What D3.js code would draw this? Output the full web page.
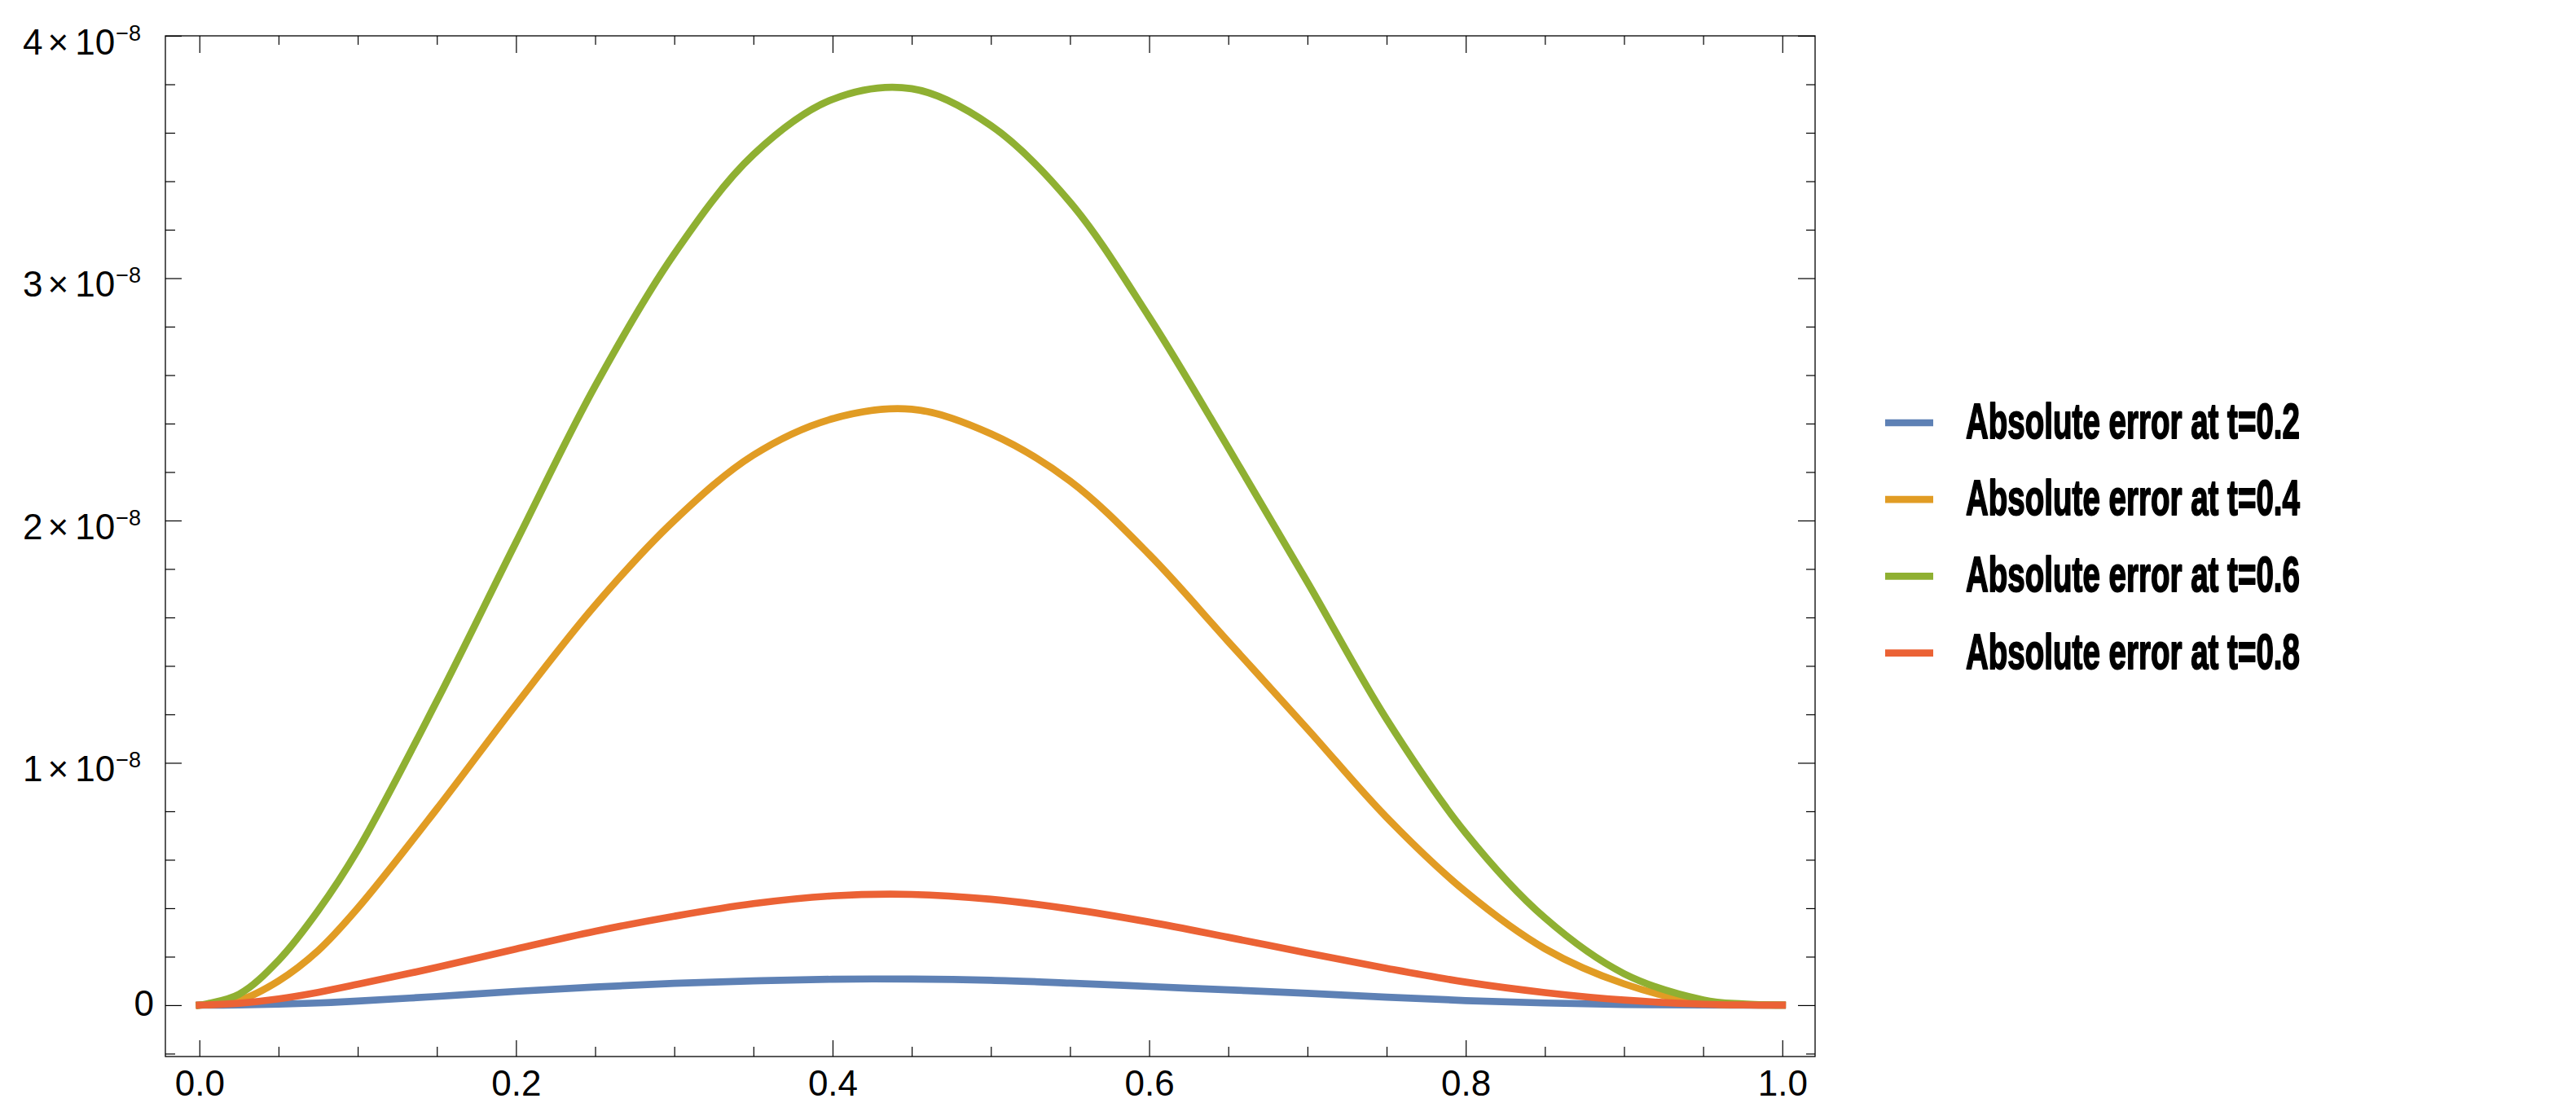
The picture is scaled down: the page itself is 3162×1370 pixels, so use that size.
<!DOCTYPE html>
<html>
<head>
<meta charset="utf-8">
<script src="https://cdn.jsdelivr.net/npm/d3@7"></script>
<style>
  body { margin: 0; background: #fff; }
  svg text { font-family: "Liberation Sans", Arial, sans-serif; }
</style>
</head>
<body>
<div id="chart"></div>
<script>
// x positions and absolute errors (values are in units of 1e-8)
var xs      = [0, 0.025, 0.05, 0.075, 0.1, 0.15, 0.2, 0.25, 0.3, 0.35, 0.4, 0.45, 0.5, 0.55, 0.6, 0.65, 0.7, 0.75, 0.8, 0.85, 0.9, 0.95, 0.975, 1];
var errT02  = [0, 0.001, 0.004, 0.009, 0.017, 0.036, 0.057, 0.075, 0.09, 0.10, 0.107, 0.108, 0.103, 0.091, 0.077, 0.063, 0.049, 0.033, 0.019, 0.009, 0.003, 0.001, 0, 0];
var errT04  = [0, 0.02, 0.10, 0.225, 0.40, 0.81, 1.24, 1.65, 2.0, 2.27, 2.42, 2.459, 2.358, 2.163, 1.86, 1.50, 1.14, 0.775, 0.468, 0.233, 0.088, 0.008, 0.002, 0];
var errT06  = [0, 0.045, 0.185, 0.39, 0.64, 1.255, 1.91, 2.555, 3.10, 3.51, 3.738, 3.782, 3.63, 3.314, 2.84, 2.30, 1.745, 1.18, 0.71, 0.36, 0.13, 0.022, 0.005, 0];
var errT08  = [0, 0.008, 0.026, 0.053, 0.086, 0.156, 0.232, 0.305, 0.367, 0.419, 0.451, 0.457, 0.437, 0.397, 0.343, 0.28, 0.215, 0.152, 0.095, 0.052, 0.021, 0.004, 0.001, 0];

var seriesNames  = ["Absolute error at t=0.2", "Absolute error at t=0.4", "Absolute error at t=0.6", "Absolute error at t=0.8"];
var seriesColors = ["#5E81B5", "#E19C24", "#8FB032", "#EB6235"];

var xTicks = [0, 0.2, 0.4, 0.6, 0.8, 1.0];
var yTicks = [0, 1, 2, 3, 4];
var yExponent = "\u22128";

var width = 3162, height = 1370;
var frame = {left: 203, top: 44, right: 2228, bottom: 1297};

var svg = d3.select("#chart").append("svg")
    .attr("width", width)
    .attr("height", height);

var x = d3.scaleLinear()
    .domain([-0.0215, 1.0207])
    .range([frame.left, frame.right]);

var y = d3.scaleLinear()
    .domain([-0.212, 4])
    .range([frame.bottom, frame.top]);

var xMinor = d3.range(0, 1.0001, 0.05).filter(function(d){ return Math.abs(d * 5 - Math.round(d * 5)) > 1e-6 });
var yMinor = d3.range(-0.2, 4.0001, 0.2).filter(function(d){ return Math.abs(d - Math.round(d)) > 1e-6 });

function tickAxis(axis, values, size){
    return axis.tickValues(values).tickSize(size).tickFormat("");
}

function styleAxis(g){
    g.select(".domain").remove();
    g.selectAll("line").attr("stroke", "#000").attr("stroke-width", 1.2);
}

// minor ticks on all four sides
svg.append("g").attr("transform", "translate(0," + frame.bottom + ")").call(tickAxis(d3.axisBottom(x), xMinor, -12)).call(styleAxis);
svg.append("g").attr("transform", "translate(0," + frame.top + ")").call(tickAxis(d3.axisTop(x), xMinor, -11)).call(styleAxis);
svg.append("g").attr("transform", "translate(" + frame.left + ",0)").call(tickAxis(d3.axisLeft(y), yMinor, -12)).call(styleAxis);
svg.append("g").attr("transform", "translate(" + frame.right + ",0)").call(tickAxis(d3.axisRight(y), yMinor, -11)).call(styleAxis);

// major ticks
var xAxis = svg.append("g")
    .attr("transform", "translate(0," + frame.bottom + ")")
    .call(d3.axisBottom(x).tickValues(xTicks).tickSize(-20).tickPadding(17).tickFormat(d3.format(".1f")))
    .call(styleAxis);
xAxis.selectAll("text")
    .attr("font-family", "Liberation Sans, Arial, sans-serif")
    .attr("font-size", 44)
    .attr("fill", "#000");

svg.append("g").attr("transform", "translate(0," + frame.top + ")").call(tickAxis(d3.axisTop(x), xTicks, -21)).call(styleAxis);
svg.append("g").attr("transform", "translate(" + frame.left + ",0)").call(tickAxis(d3.axisLeft(y), yTicks, -20)).call(styleAxis);
svg.append("g").attr("transform", "translate(" + frame.right + ",0)").call(tickAxis(d3.axisRight(y), yTicks, -21)).call(styleAxis);

// y labels with scientific notation
yTicks.forEach(function(v){
    if (v === 0) {
        svg.append("text")
            .attr("x", frame.left - 14)
            .attr("y", y(v) + 13)
            .attr("text-anchor", "end")
            .attr("font-size", 44)
            .text("0");
        return;
    }
    var t = svg.append("text")
        .attr("x", frame.left - 30)
        .attr("y", y(v) + 23)
        .attr("text-anchor", "end")
        .attr("font-size", 44);
    t.append("tspan").text(v);
    t.append("tspan").attr("dx", 6).text("\u00d7");
    t.append("tspan").attr("dx", 8).text("10");
    t.append("tspan").attr("dx", 1).attr("dy", -17).attr("font-size", 27).text(yExponent);
});

// frame
svg.append("rect")
    .attr("x", frame.left)
    .attr("y", frame.top)
    .attr("width", frame.right - frame.left)
    .attr("height", frame.bottom - frame.top)
    .attr("fill", "none")
    .attr("stroke", "#000")
    .attr("stroke-width", 1.3);

// curves
var series = [errT02, errT04, errT06, errT08];

var line = d3.line()
    .x(function(d, i){ return x(xs[i]) })
    .y(function(d){ return y(d) })
    .curve(d3.curveCatmullRom.alpha(0.5));

svg.selectAll(".err")
    .data(series)
    .enter()
    .append("path")
    .attr("class", "err")
    .attr("d", line)
    .attr("fill", "none")
    .attr("stroke", function(d, i){ return seriesColors[i] })
    .attr("stroke-width", 8.7)
    .attr("stroke-linecap", "square")
    .attr("stroke-linejoin", "round");

// legend
var legend = svg.append("g").attr("transform", "translate(2314,519)");

var rows = legend.selectAll(".row")
    .data(seriesNames)
    .enter()
    .append("g")
    .attr("class", "row")
    .attr("transform", function(d, i){ return "translate(0," + (i * 94.2) + ")" });

rows.append("line")
    .attr("x1", 0)
    .attr("x2", 59)
    .attr("stroke", function(d, i){ return seriesColors[i] })
    .attr("stroke-width", 8.7);

rows.append("text")
    .attr("x", 99)
    .attr("y", 19)
    .attr("font-family", "Liberation Sans Narrow, Liberation Sans, Arial, sans-serif")
    .attr("font-size", 62)
    .attr("font-weight", "bold")
    .attr("stroke", "#000")
    .attr("stroke-width", 2)
    .attr("stroke-linejoin", "round")
    .attr("textLength", 410)
    .attr("lengthAdjust", "spacingAndGlyphs")
    .text(function(d){ return d });
</script>
</body>
</html>
